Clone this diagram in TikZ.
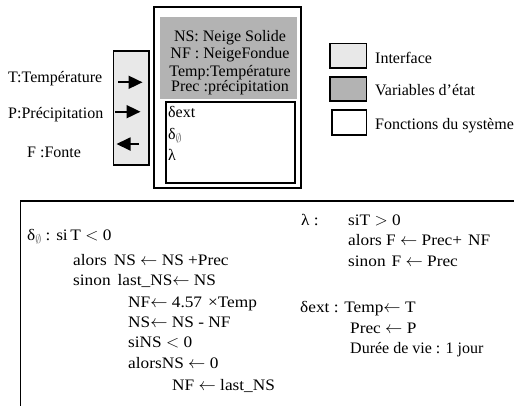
\documentclass[tikz,border=0pt]{standalone}
\usepackage{fontspec}
\setmainfont{Liberation Serif}
\newfontfamily\widefont[FakeStretch=1.08]{Liberation Serif}
\usetikzlibrary{arrows.meta}
\newcommand{\dnull}{δ\raisebox{-3pt}{\textcolor{black!55}{\scalebox{0.7}{$\emptyset$}}}}
\newcommand{\la}{$\leftarrow$}
\tikzset{
  txt/.style={anchor=base west, inner sep=0pt, font=\fontsize{16}{18}\selectfont},
  wtxt/.style={anchor=base west, inner sep=0pt, font=\fontsize{16}{18}\widefont},
  ctxt/.style={anchor=base, inner sep=0pt, font=\fontsize{16}{18}\selectfont},
  boxline/.style={draw=black, line width=1.6pt},
  arr/.style={line width=1.8pt, -{Triangle[length=14pt,width=13pt]}},
}
\definecolor{ifgray}{HTML}{E8E8E8}
\definecolor{vargray}{HTML}{B3B3B3}
\begin{document}
\begin{tikzpicture}[x=1pt,y=-1pt]
\useasboundingbox (0,0) rectangle (514,405);
\clip (0,0) rectangle (514,405);
% interface box
\draw[boxline, fill=ifgray] (113.5,51) rectangle (149,165);
% model outer box
\draw[boxline] (154,7) rectangle (301,188);
\fill[vargray] (160,17) rectangle (297,99);
\draw[boxline] (166,102) rectangle (295,183);
% ports
\coordinate (tin) at (118,82.3);
\coordinate (tout) at (142.5,82.3);
\coordinate (pin) at (115,111.7);
\coordinate (pout) at (140.5,111.7);
\coordinate (fin) at (139,144);
\coordinate (fout) at (116.5,144);
\draw[arr] (tin) -- (tout);
\draw[arr] (pin) -- (pout);
\draw[arr] (fin) -- (fout);
% port labels
\node[txt] (lt) at (8,82) {T:Température};
\node[txt] (lp) at (8,118) {P:Précipitation};
\node[txt] (lf) at (27,157) {F :Fonte};
% state variables
\node[ctxt] (v1) at (230,41) {NS: Neige Solide};
\node[ctxt] (v2) at (230,58.5) {NF : NeigeFondue};
\node[ctxt] (v3) at (230,76.5) {Temp:Température};
\node[ctxt] (v4) at (230,91) {Prec :précipitation};
% functions
\node[txt] (f1) at (168,117) {δext};
\node[txt] (f2) at (168,139) {\dnull};
\node[txt] (f3) at (168,160) {λ};
% legend
\draw[boxline, fill=ifgray] (330,43.5) rectangle (366.5,68);
\draw[boxline, fill=vargray] (330,77) rectangle (366.5,101);
\draw[boxline, fill=white] (332,110) rectangle (366.5,135);
\node[txt] (g1) at (375,63.5) {Interface};
\node[txt] (g2) at (375,95) {Variables d’état};
\node[txt] (g3) at (375,129) {Fonctions du système};
% bottom box
\draw[boxline] (20.5,420) -- (20.5,201) -- (530,201);
\node[wtxt] (b1) at (27,240) {\dnull\ : si\,T $<$ 0};
\node[wtxt] (b2) at (73,265) {alors\hspace{7pt}NS \la{} NS +Prec};
\node[wtxt] (b3) at (73,285) {sinon\hspace{7pt}last\_NS\la{} NS};
\node[wtxt] (b4) at (128,307) {NF\la{} 4.57\hspace{6pt}×Temp};
\node[wtxt] (b5) at (128,327) {NS\la{} NS - NF};
\node[wtxt] (b6) at (128,347) {siNS $<$ 0};
\node[wtxt] (b7) at (128,368) {alorsNS \la{} 0};
\node[wtxt] (b8) at (172,390) {NF \la{} last\_NS};
\node[wtxt] (r1) at (301,225) {λ :};
\node[wtxt] (r1b) at (348,225) {siT $>$ 0};
\node[wtxt] (r2) at (348,245) {alors F \la{} Prec+\hspace{6pt}NF};
\node[wtxt] (r3) at (348,266) {sinon\hspace{6pt}F \la{} Prec};
\node[wtxt] (r4) at (300,312) {δext : Temp\la{} T};
\node[wtxt] (r5) at (350,333) {Prec \la{} P};
\node[txt] (r6) at (350,353) {Durée de vie : 1 jour};
\end{tikzpicture}
\end{document}
